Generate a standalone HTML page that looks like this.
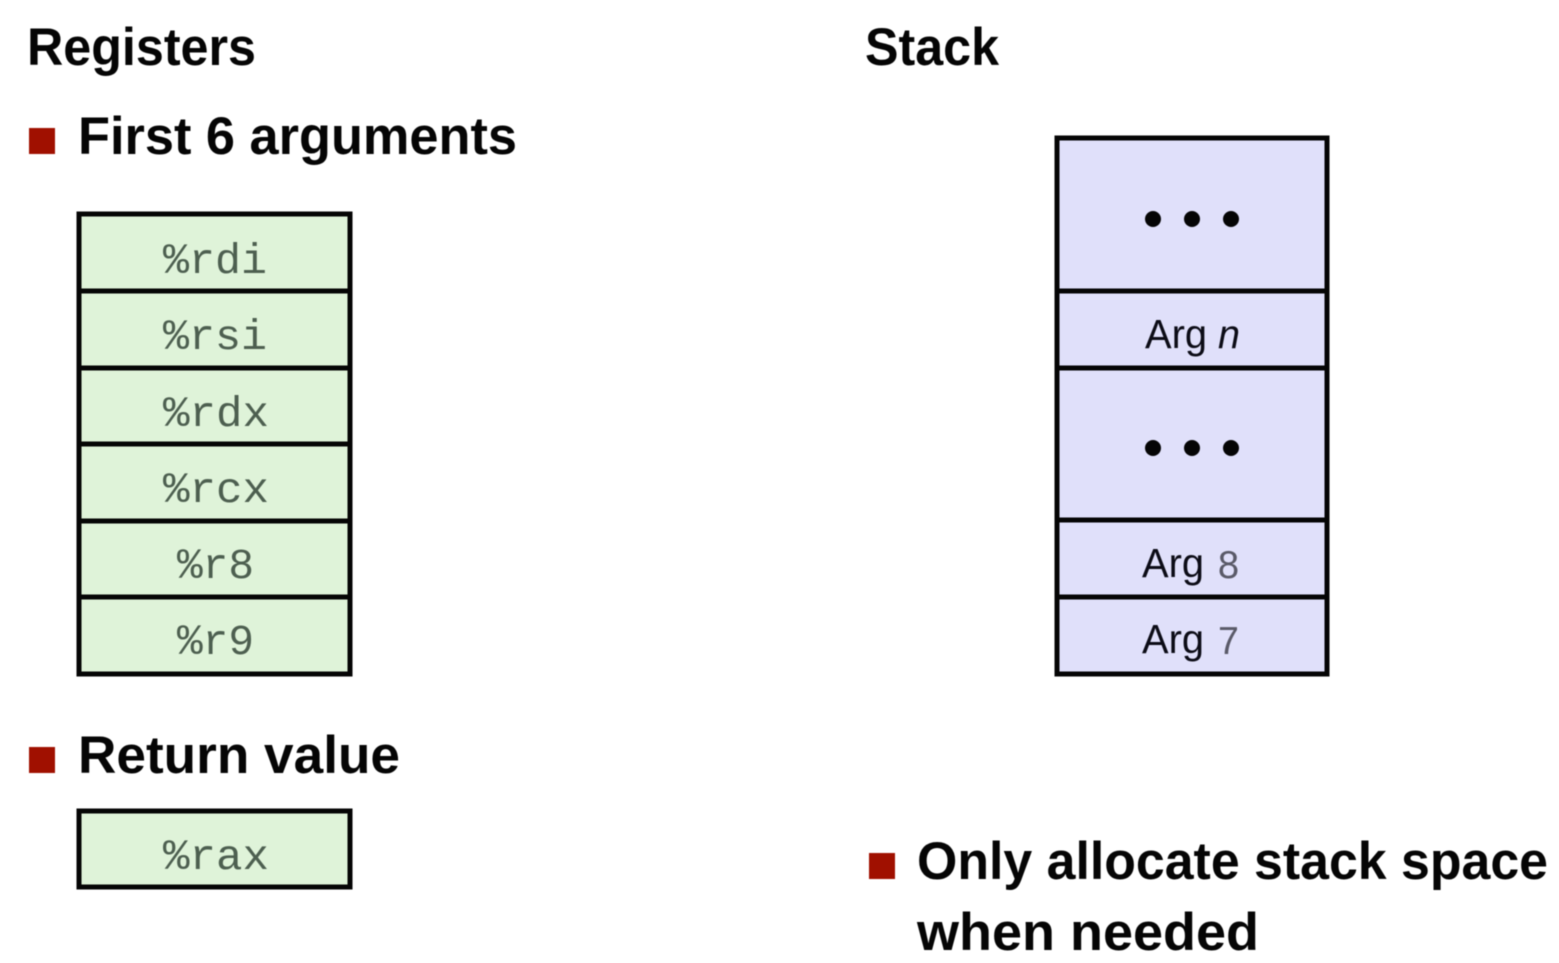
<!DOCTYPE html>
<html lang="en">
<head>
<meta charset="utf-8">
<title>Registers and Stack</title>
<style>
html,body{margin:0;padding:0;background:#fff;width:1559px;height:963px;overflow:hidden}
svg{display:block;filter:blur(.45px)}
.h{font-family:"Liberation Sans",sans-serif;font-weight:700;font-size:53px;fill:#050505}
.m{font-family:"Liberation Mono",monospace;font-size:43px;fill:#4d5f50}
.a{font-family:"Liberation Sans",sans-serif;font-size:41px;fill:#0c0c16}
.am{font-family:"Liberation Mono",monospace;font-size:41px;fill:#5a5a68}
.b{fill:#a01000}
.l{stroke:#050505;stroke-width:5;fill:none}
</style>
</head>
<body>
<svg xmlns="http://www.w3.org/2000/svg" width="1559" height="963" viewBox="0 0 1559 963">
  <rect width="1559" height="963" fill="#fff"/>

  <text class="h" x="27" y="65" textLength="229" lengthAdjust="spacingAndGlyphs">Registers</text>
  <text class="h" x="865" y="65" textLength="134" lengthAdjust="spacingAndGlyphs">Stack</text>

  <rect class="b" x="29" y="128" width="26" height="26"/>
  <text class="h" x="78" y="154" textLength="439" lengthAdjust="spacingAndGlyphs">First 6 arguments</text>

  <g>
    <rect x="79" y="214" width="271" height="460" fill="#dff3d9"/>
    <path class="l" d="M79 214H350V674H79ZM79 291H350M79 368H350M79 444H350M79 521H350M79 597H350"/>
    <text class="m" x="163" y="273" textLength="104" lengthAdjust="spacingAndGlyphs">%rdi</text>
    <text class="m" x="163" y="349" textLength="104" lengthAdjust="spacingAndGlyphs">%rsi</text>
    <text class="m" x="163" y="426" textLength="106" lengthAdjust="spacingAndGlyphs">%rdx</text>
    <text class="m" x="163" y="502" textLength="106" lengthAdjust="spacingAndGlyphs">%rcx</text>
    <text class="m" x="177" y="578" textLength="77" lengthAdjust="spacingAndGlyphs">%r8</text>
    <text class="m" x="177" y="654" textLength="77" lengthAdjust="spacingAndGlyphs">%r9</text>
  </g>

  <rect class="b" x="29" y="747" width="26" height="26"/>
  <text class="h" x="78" y="773" textLength="322" lengthAdjust="spacingAndGlyphs">Return value</text>

  <g>
    <rect x="79" y="811" width="271" height="76" fill="#dff3d9"/>
    <rect class="l" x="79" y="811" width="271" height="76"/>
    <text class="m" x="163" y="869" textLength="106" lengthAdjust="spacingAndGlyphs">%rax</text>
  </g>

  <g>
    <rect x="1057" y="138" width="270" height="536" fill="#e0e0fa"/>
    <path class="l" d="M1057 138H1327V674H1057ZM1057 291H1327M1057 368H1327M1057 520H1327M1057 597H1327"/>
    <g fill="#050505">
      <circle cx="1153" cy="219" r="8"/>
      <circle cx="1192" cy="219" r="8"/>
      <circle cx="1231" cy="219" r="8"/>
    </g>
    <g fill="#050505">
      <circle cx="1153" cy="448" r="8"/>
      <circle cx="1192" cy="448" r="8"/>
      <circle cx="1231" cy="448" r="8"/>
    </g>
    <text class="a" x="1145" y="348" textLength="62" lengthAdjust="spacingAndGlyphs">Arg</text>
    <text class="a" x="1218" y="348" font-style="italic" textLength="22" lengthAdjust="spacingAndGlyphs">n</text>
    <text class="a" x="1142" y="577" textLength="62" lengthAdjust="spacingAndGlyphs">Arg</text>
    <text class="am" x="1217" y="578" textLength="23" lengthAdjust="spacingAndGlyphs">8</text>
    <text class="a" x="1142" y="653" textLength="62" lengthAdjust="spacingAndGlyphs">Arg</text>
    <text class="am" x="1217" y="654" textLength="23" lengthAdjust="spacingAndGlyphs">7</text>
  </g>

  <rect class="b" x="869" y="853" width="26" height="26"/>
  <text class="h" x="917" y="879" textLength="631" lengthAdjust="spacingAndGlyphs">Only allocate stack space</text>
  <text class="h" x="917" y="950" textLength="342" lengthAdjust="spacingAndGlyphs">when needed</text>
</svg>
</body>
</html>
